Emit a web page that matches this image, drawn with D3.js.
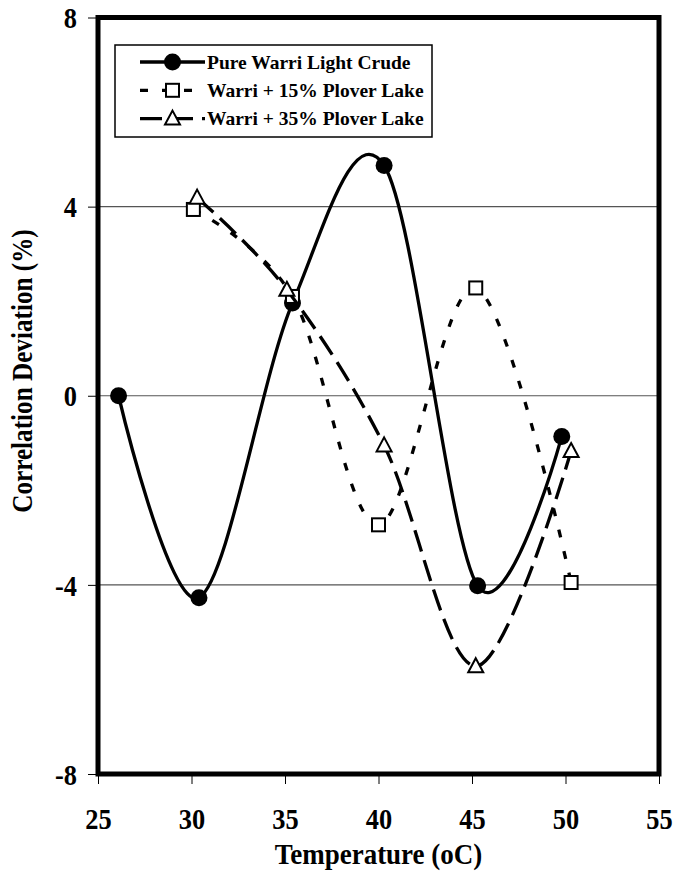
<!DOCTYPE html>
<html>
<head>
<meta charset="utf-8">
<script src="https://cdn.jsdelivr.net/npm/d3@7"></script>
<style>
  body { margin: 0; background: #fff; }
  text { font-family: "Liberation Serif", "Times New Roman", serif; font-weight: bold; fill: #000; }
</style>
</head>
<body>
<script>
// Correlation deviation of the viscosity model against temperature
const seriesNames = ["Pure Warri Light Crude", "Warri + 15% Plover Lake", "Warri + 35% Plover Lake"];
const pureTemp   = [26.1, 30.4, 35.4, 40.3, 45.3, 49.8];
const pureDev    = [0, -4.27, 1.96, 4.87, -4.02, -0.86];
const blend15Temp = [30.1, 35.4, 40.0, 45.2, 50.3];
const blend15Dev  = [3.94, 2.10, -2.73, 2.28, -3.95];
const blend35Temp = [30.3, 35.1, 40.3, 45.2, 50.3];
const blend35Dev  = [4.19, 2.24, -1.05, -5.72, -1.17];
const xTicks = [25, 30, 35, 40, 45, 50, 55];
const yTicks = [-8, -4, 0, 4, 8];
const gridValues = [-4, 0, 4];

const W = 673, H = 873;
const plotLeft = 98, plotRight = 659, plotTop = 17.5, plotBottom = 774;

const svg = d3.select("body").append("svg")
  .attr("width", W).attr("height", H);

const x = d3.scaleLinear().domain([25, 55]).range([plotLeft, plotRight]);
const y = d3.scaleLinear().domain([-8, 8]).range([plotBottom, plotTop]);

// horizontal gridlines
svg.append("g").selectAll("line").data(gridValues).join("line")
  .attr("x1", plotLeft).attr("x2", plotRight)
  .attr("y1", d => y(d)).attr("y2", d => y(d))
  .attr("stroke", "#555").attr("stroke-width", 1.2);

// axes (ticks + labels); the frame replaces the domain lines
const squeeze = 0.88;
const yAxis = svg.append("g").attr("transform", `translate(${plotLeft},0)`)
  .call(d3.axisLeft(y).tickValues(yTicks).tickSize(10).tickFormat(d => String(d)));
yAxis.select(".domain").remove();
yAxis.selectAll(".tick line").attr("stroke", "#000").attr("stroke-width", 1);
yAxis.selectAll(".tick text")
  .attr("x", -21 / squeeze).attr("dy", "0.34em")
  .attr("transform", `scale(${squeeze},1)`);

const xAxis = svg.append("g").attr("transform", `translate(0,${plotBottom})`)
  .call(d3.axisBottom(x).tickValues(xTicks).tickSize(10).tickFormat(d => String(d)));
xAxis.select(".domain").remove();
xAxis.selectAll(".tick line").attr("stroke", "#000").attr("stroke-width", 1);
xAxis.selectAll(".tick text")
  .attr("y", 55).attr("dy", 0)
  .attr("transform", `scale(${squeeze},1)`);

svg.selectAll(".tick text")
  .attr("font-family", null).attr("font-size", null)
  .style("font-size", "30px").attr("fill", "#000");

// series
const series = [
  { name: seriesNames[0], temp: pureTemp, dev: pureDev, dash: null, marker: "circle" },
  { name: seriesNames[1], temp: blend15Temp, dev: blend15Dev, dash: "8,14", marker: "square" },
  { name: seriesNames[2], temp: blend35Temp, dev: blend35Dev, dash: "22,9", marker: "triangle" }
];

const line = d3.line()
  .x(d => x(d[0])).y(d => y(d[1]))
  .curve(d3.curveCardinal.tension(0));

function drawMarker(g, kind, cx, cy) {
  if (kind === "circle") {
    g.append("circle").attr("cx", cx).attr("cy", cy).attr("r", 8.5).attr("fill", "#000");
  } else if (kind === "square") {
    g.append("rect").attr("x", cx - 6.5).attr("y", cy - 6.5).attr("width", 13).attr("height", 13)
      .attr("fill", "#fff").attr("stroke", "#000").attr("stroke-width", 2);
  } else {
    g.append("path")
      .attr("d", `M${cx},${cy - 8}L${cx + 7.5},${cy + 6}L${cx - 7.5},${cy + 6}Z`)
      .attr("fill", "#fff").attr("stroke", "#000").attr("stroke-width", 2);
  }
}

series.forEach(s => {
  const pts = s.temp.map((t, i) => [t, s.dev[i]]);
  const g = svg.append("g");
  g.append("path").attr("d", line(pts))
    .attr("fill", "none").attr("stroke", "#000").attr("stroke-width", 3.3)
    .attr("stroke-dasharray", s.dash);
  pts.forEach(p => drawMarker(g, s.marker, x(p[0]), y(p[1])));
});

// plot frame
svg.append("rect")
  .attr("x", plotLeft).attr("y", plotTop)
  .attr("width", plotRight - plotLeft).attr("height", plotBottom - plotTop)
  .attr("fill", "none").attr("stroke", "#000").attr("stroke-width", 5);

// legend
const lg = svg.append("g");
lg.append("rect").attr("x", 115).attr("y", 45).attr("width", 317).attr("height", 92)
  .attr("fill", "#fff").attr("stroke", "#000").attr("stroke-width", 1.5);
series.forEach((s, i) => {
  const ly = 62 + i * 28.3;
  lg.append("line").attr("x1", 140).attr("x2", 205).attr("y1", ly).attr("y2", ly)
    .attr("stroke", "#000").attr("stroke-width", 3.3).attr("stroke-dasharray", s.dash);
  drawMarker(lg, s.marker, 172.5, ly);
  lg.append("text").attr("x", 207).attr("y", ly + 6.8)
    .style("font-size", "19.5px").text(s.name);
});

// axis titles
svg.append("text")
  .attr("transform", `translate(378.5,864) scale(0.9,1)`)
  .attr("text-anchor", "middle").style("font-size", "30px")
  .text("Temperature (oC)");
svg.append("text")
  .attr("transform", `translate(32,371) rotate(-90) scale(0.84,1)`)
  .attr("text-anchor", "middle").style("font-size", "30px")
  .text("Correlation Deviation (%)");
</script>
</body>
</html>
